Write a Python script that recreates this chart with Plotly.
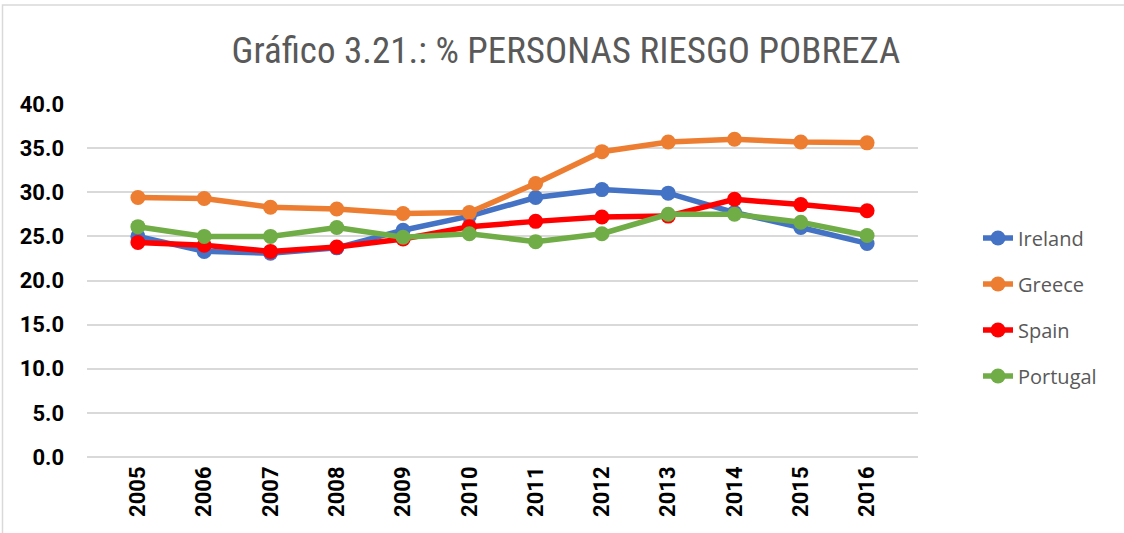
import plotly.graph_objects as go

# Share of population at risk of poverty or social exclusion (%)
years = ["2005", "2006", "2007", "2008", "2009", "2010",
         "2011", "2012", "2013", "2014", "2015", "2016"]
ireland = [25.0, 23.3, 23.1, 23.7, 25.7, 27.3, 29.4, 30.3, 29.9, 27.7, 26.0, 24.2]
greece = [29.4, 29.3, 28.3, 28.1, 27.6, 27.7, 31.0, 34.6, 35.7, 36.0, 35.7, 35.6]
spain = [24.3, 24.0, 23.3, 23.8, 24.7, 26.1, 26.7, 27.2, 27.3, 29.2, 28.6, 27.9]
portugal = [26.1, 25.0, 25.0, 26.0, 24.9, 25.3, 24.4, 25.3, 27.5, 27.5, 26.6, 25.1]

series = [
    ("Ireland", ireland, "#4472C4"),
    ("Greece", greece, "#ED7D31"),
    ("Spain", spain, "#FF0000"),
    ("Portugal", portugal, "#70AD47"),
]

W, H = 1124, 533
L, R, T, B = 87, 206, 104, 76
pw, ph = W - L - R, H - T - B

narrow = "Liberation Sans Narrow, Roboto Condensed, DejaVu Sans Condensed, Arial"
tickfont = dict(family="Roboto, Arial", size=22, color="black", weight="bold")

fig = go.Figure()
for name, vals, color in series:
    fig.add_trace(go.Scatter(
        x=years, y=vals, name=name, mode="lines+markers",
        legendgroup=name,
        line=dict(color=color, width=5.5),
        marker=dict(color=color, size=15),
    ))

# light frame around the whole chart
fig.add_shape(
    type="rect", xref="paper", yref="paper",
    x0=(2.5 - L) / pw, x1=(W + 10 - L) / pw,
    y0=-(H + 10 - (T + ph)) / ph, y1=(T + ph - 5) / ph,
    line=dict(color="#D9D9D9", width=1.5), layer="below",
)

fig.update_layout(
    width=W, height=H,
    margin=dict(l=L, r=R, t=T, b=B),
    paper_bgcolor="white", plot_bgcolor="white",
    title=dict(
        text="Gráfico 3.21.: % PERSONAS RIESGO POBREZA",
        x=566 / W, xanchor="center", y=1 - 50 / H, yanchor="middle",
        font=dict(family=narrow, size=37, color="#595959"),
    ),
    showlegend=True,
    legend=dict(
        x=(978 - L) / pw, xanchor="left",
        y=(T + ph - 307) / ph, yanchor="middle",
        font=dict(family="Open Sans, Arial", size=20, color="#595959"),
        tracegroupgap=17, bgcolor="rgba(0,0,0,0)",
    ),
    xaxis=dict(
        type="category", tickangle=-90, showgrid=False, showline=False,
        ticks="", tickfont=tickfont, ticklabelstandoff=4,
    ),
    yaxis=dict(
        range=[0, 40], dtick=5, tickformat=".1f", showgrid=True,
        gridcolor="#D9D9D9", gridwidth=1.5, zeroline=True,
        zerolinecolor="#D9D9D9", zerolinewidth=1.5, showline=False,
        ticks="", ticklabelstandoff=22,
        tickfont=tickfont,
    ),
)

fig.write_html("out.html")
